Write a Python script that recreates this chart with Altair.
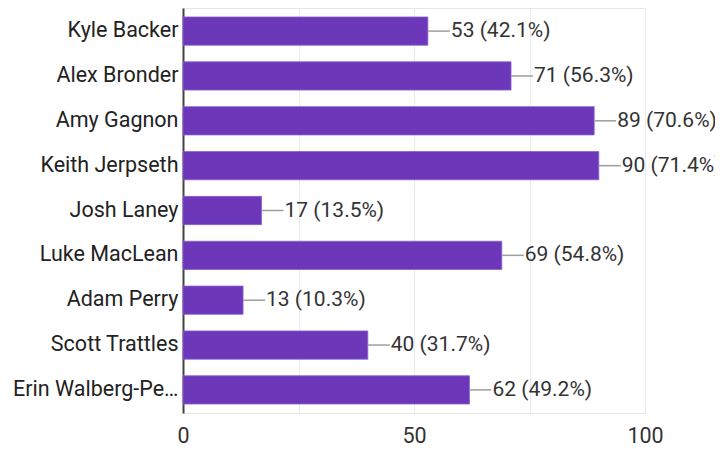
import altair as alt
import pandas as pd

names = ["Kyle Backer", "Alex Bronder", "Amy Gagnon", "Keith Jerpseth", "Josh Laney",
         "Luke MacLean", "Adam Perry", "Scott Trattles", "Erin Walberg-Pe…"]
counts = [53, 71, 89, 90, 17, 69, 13, 40, 62]
percents = ["42.1%", "56.3%", "70.6%", "71.4%", "13.5%", "54.8%", "10.3%", "31.7%", "49.2%"]

df = pd.DataFrame({
    "name": names,
    "count": counts,
    "label": [f"{c} ({p})" for c, p in zip(counts, percents)],
})

FONT = "Roboto"
FS = 21.5
x_enc = alt.X("count:Q", scale=alt.Scale(domain=[0, 100], nice=False),
              axis=alt.Axis(values=[0, 25, 50, 75, 100], title=None,
                            labelExpr="datum.value % 50 == 0 ? datum.label : ''",
                            ticks=False, labelPadding=12, labelFontSize=FS,
                            labelColor="#333333", labelFont=FONT,
                            domainColor="#e6e6e6", gridColor="#ebebeb",
                            labelFlush=False))
y_enc = alt.Y("name:N", sort=names, scale=alt.Scale(paddingInner=0.37, paddingOuter=0.2),
              axis=alt.Axis(title=None, ticks=False, labelPadding=5, labelFontSize=FS,
                            labelColor="#222222", labelFont=FONT, domainColor="#444444",
                            domainWidth=2, labelLimit=200, grid=False))

bars = alt.Chart(df).mark_bar(color="#6c38b9", stroke="#8a5fd0", strokeWidth=0.8).encode(
    x=x_enc, y=y_enc)

leaders = alt.Chart(df).mark_rule(color="#9e9e9e", strokeWidth=1.5, x2Offset=22).encode(
    x="count:Q", x2=alt.X2("count"), y=alt.Y("name:N", sort=names))

texts = alt.Chart(df).mark_text(align="left", baseline="middle", dx=23, fontSize=21,
                                font=FONT, color="#333333").encode(
    x="count:Q", y=alt.Y("name:N", sort=names), text="label:N")

chart = alt.layer(bars, leaders, texts).properties(
    width=462, height=405,
    autosize=alt.AutoSizeParams(type="none"),
    padding={"left": 175, "top": 0, "right": 70, "bottom": 36},
).configure_view(stroke="#e6e6e6", strokeWidth=1)

chart.save("out.html", embed_options={"renderer": "svg", "actions": False})
